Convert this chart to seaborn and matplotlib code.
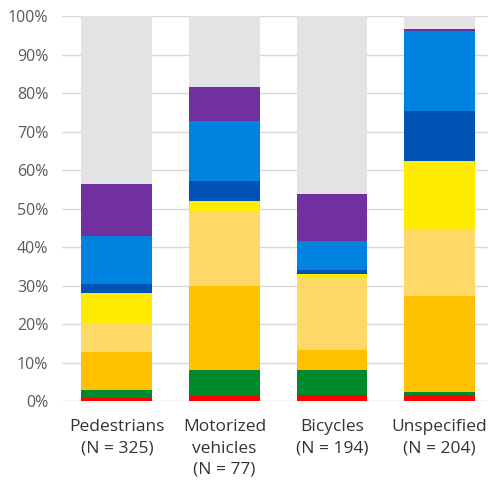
import matplotlib.pyplot as plt
import numpy as np
import pandas as pd
import seaborn as sns

sns.set_style("white")
plt.rcParams["font.family"] = ["Open Sans", "DejaVu Sans"]

categories = ["Pedestrians\n(N = 325)", "Motorized\nvehicles\n(N = 77)",
              "Bicycles\n(N = 194)", "Unspecified\n(N = 204)"]

# segment shares in percent, bottom to top
red = [0.7, 1.3, 1.6, 1.5]
green = [2.3, 6.7, 6.6, 0.9]
orange = [9.8, 22.0, 5.2, 25.0]
light_orange = [7.4, 19.4, 18.9, 17.3]
yellow = [8.0, 2.5, 0.7, 17.6]
dark_blue = [2.2, 5.2, 1.0, 13.1]
blue = [12.5, 15.6, 7.6, 20.8]
purple = [13.4, 9.0, 12.2, 0.4]
grey = [43.7, 18.3, 46.2, 3.4]

layers = [red, green, orange, light_orange, yellow, dark_blue, blue, purple, grey]
colors = ["#FF0000", "#008A2E", "#FFC000", "#FFD966", "#FFEB00",
          "#0052B4", "#0082E0", "#7030A0", "#E3E3E3"]

tops = np.cumsum(np.array(layers), axis=0)
tops[-1] = 100.0

fig = plt.figure(figsize=(4.89, 4.88), dpi=100)
ax = fig.add_axes([0.127, 0.178, 0.873, 0.789])

# draw cumulative totals from the top layer down so lower ones sit on top
for i in range(len(layers) - 1, -1, -1):
    df = pd.DataFrame({"cat": categories, "val": tops[i]})
    sns.barplot(data=df, x="cat", y="val", color=colors[i], width=0.66,
                saturation=1, linewidth=0, ax=ax, zorder=2)

ax.set_ylim(0, 100)
ax.set_xlim(-0.51, 3.46)
ax.set_yticks(np.arange(0, 101, 10))
ax.set_yticklabels([f"{v}%" for v in range(0, 101, 10)], fontsize=11.5, color="#595959")
ax.tick_params(axis="x", labelsize=12.5, labelcolor="#333333", length=0, pad=13)
ax.tick_params(axis="y", length=0, pad=10)
for lbl in ax.get_xticklabels():
    lbl.set_linespacing(1.45)
ax.yaxis.grid(True, color="#D9D9D9", linewidth=1, zorder=0)
ax.set_axisbelow(True)
for s in ax.spines.values():
    s.set_visible(False)
ax.set_xlabel("")
ax.set_ylabel("")

fig.savefig("out.png", dpi=100)
